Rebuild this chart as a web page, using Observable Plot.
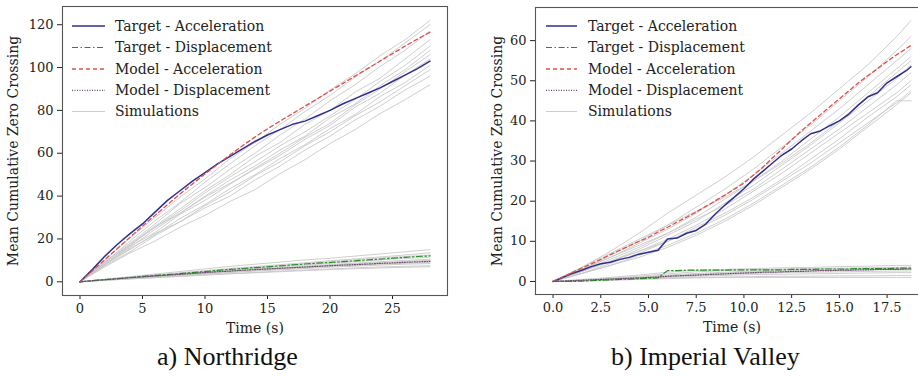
<!DOCTYPE html>
<html><head><meta charset="utf-8">
<script src="https://cdn.jsdelivr.net/npm/d3@7"></script>
<script src="https://cdn.jsdelivr.net/npm/@observablehq/plot@0.6"></script>
<style>
html,body{margin:0;padding:0;background:#fff;overflow:hidden;}
#wrap{position:relative;width:918px;height:376px;overflow:hidden;background:#fff;}
.panel{position:absolute;top:0;}
.caption{position:absolute;font-family:"Liberation Serif","Times New Roman",Times,serif;font-size:26px;color:#111;white-space:nowrap;line-height:1;}
#legend{position:absolute;left:0;top:0;}
</style>
</head><body>
<div id="wrap"></div>
<script>
// ---------------- Data ----------------
const seriesNames = ["Target - Acceleration","Target - Displacement","Model - Acceleration","Model - Displacement","Simulations"];
const captions = ["a) Northridge","b) Imperial Valley"];
const yLabel = "Mean Cumulative Zero Crossing";
const xLabel = "Time (s)";

// Northridge
const nrT = [0,1,2,3,4,5,6,7,8,9,10,11,12,13,14,15,16,17,18,19,20,21,22,23,24,25,26,27,28];
const nrTargetAcc = [0,5.8,12,17.5,22.5,27,32.5,38,42.5,47,51,55,58.5,62,65.5,68.5,71,73.5,75,77.5,80,83,85.5,88,90.5,93.5,96.5,99.5,103];
const nrModelAcc = [0,5.2,10.4,15.6,20.8,26,31,36,41,45.7,50.3,54.8,59.2,63.5,67.6,71.4,75,78.5,82,85.5,89,92.5,96,99.5,103,106.5,110,113.3,116.5];
const nrTargetDisp = [0,0.5,1,1.5,2,2.5,3,3.3,3.8,4.3,4.8,5.3,5.8,6.2,6.6,7,7.4,7.9,8.3,8.7,9,9.4,9.8,10.2,10.6,11,11.4,11.8,12.1];
const nrModelDisp = [0,0.5,1,1.4,1.9,2.3,2.7,3.1,3.5,3.9,4.3,4.7,5,5.4,5.7,6,6.3,6.6,6.9,7.2,7.5,7.8,8,8.3,8.6,8.8,9.1,9.3,9.5];
const nrSimT = [0,2,4,6,8,10,12,14,16,18,20,22,24,26,28];
const nrSimAcc = [
  [0,10,20.5,30,39.5,48,57.5,65,73.5,81,89.5,97,105.5,113,122],
  [0,9,19,28.5,37,46.5,55,63.5,71,79.5,87,95.5,103,111.5,120],
  [0,9.5,18,27,36.5,44,52.5,60,68.5,76,84.5,92,100.5,108,117],
  [0,9,17.5,26,34,42.5,50,58.5,65,73.5,80,88.5,95,104,113],
  [0,8,17,25.5,33,41.5,49,56,63.5,70,77.5,85,93.5,101,110],
  [0,8.5,16,24.5,32,40,47.5,54,61.5,68,76.5,83,91.5,99,108],
  [0,8,16.5,23,31.5,38,45.5,53,60,67.5,74,82.5,90,98,106],
  [0,9,17,25.5,32,39.5,46,52.5,59,66.5,73,81.5,88,96.5,104],
  [0,8,15.5,22,29.5,36,43.5,50,57.5,64,71.5,78,86.5,93,101],
  [0,7.5,14,21.5,28,35.5,42,49.5,56,63.5,70,77.5,84,91.5,99],
  [0,8,15,22.5,28,34.5,40,47.5,54,61.5,68,75.5,82,89.5,96],
  [0,7,13.5,19,25.5,31,37.5,43,50.5,57,64.5,71,78.5,85,92]
];
const nrSimDisp = [
  [0,1.2,2.4,3.6,4.8,6,7.2,8.2,9.2,10.2,11,12,13,14,15],
  [0,1.1,2.2,3.2,4.2,5.2,6.2,7.1,8,8.9,9.8,10.7,11.6,12.5,13.5],
  [0,1,2,3,4,4.9,5.8,6.7,7.6,8.5,9.4,10.3,11.1,11.8,12.5],
  [0,1,1.9,2.8,3.7,4.6,5.4,6.2,7,7.8,8.6,9.4,10.2,10.9,11.5],
  [0,0.9,1.8,2.6,3.4,4.2,5,5.8,6.5,7.3,8,8.7,9.4,10,10.5],
  [0,0.9,1.7,2.5,3.3,4.1,4.9,5.6,6.3,7,7.7,8.4,9,9.5,10],
  [0,0.8,1.6,2.4,3.1,3.8,4.5,5.2,5.9,6.5,7.1,7.7,8.2,8.6,9],
  [0,0.8,1.5,2.2,2.9,3.6,4.3,5,5.6,6.2,6.8,7.3,7.8,8.2,8.5],
  [0,0.7,1.4,2,2.6,3.2,3.8,4.4,5,5.5,6,6.5,6.9,7.2,7.5],
  [0,0.7,1.3,1.9,2.5,3.1,3.7,4.2,4.7,5.2,5.7,6.1,6.5,6.8,7]
];

// Imperial Valley
const ivT = [0,0.5,1,1.5,2,2.5,3,3.5,4,4.5,5,5.5,6,6.5,7,7.5,8,8.5,9,9.5,10,10.5,11,11.5,12,12.5,13,13.5,14,14.5,15,15.5,16,16.5,17,17.5,18,18.5,18.75];
const ivTargetAcc = [0,1,2,2.8,3.7,4.4,4.8,5.5,6,6.8,7.3,7.8,10.6,10.8,12,12.7,14.3,16.8,19,21,23.1,25.5,27.5,29.5,31.5,33,35,36.8,37.5,38.8,40,41.7,44,46,47,49.5,51,52.5,53.5];
const ivModelAcc = [0,1.1,2.2,3.3,4.4,5.5,6.7,7.8,8.9,10,11,12.3,13.5,14.8,16,17.3,18.7,20.1,21.5,23,24.5,26.5,28.5,30.8,33,35.3,37.5,39.5,41.5,43.5,45.5,47.5,49.5,51.3,53,54.8,56.5,58,58.8];
const ivTargetDisp = [0,0,0,0.1,0.2,0.3,0.4,0.5,0.6,0.7,0.8,0.9,2.7,2.7,2.8,2.8,2.8,2.8,2.8,2.9,2.9,2.9,2.9,2.9,2.9,3,3,3,3.1,3.1,3.1,3.1,3.2,3.2,3.2,3.2,3.3,3.3,3.3];
const ivModelDisp = [0,0.1,0.2,0.3,0.4,0.5,0.6,0.7,0.8,0.9,1,1.1,1.3,1.4,1.5,1.6,1.7,1.8,1.9,2,2.1,2.2,2.3,2.3,2.4,2.5,2.5,2.6,2.7,2.7,2.8,2.8,2.9,2.9,3,3,3,3.1,3.1];
const ivSimT = [0,1.5,3,4.5,6,7.5,9,10.5,12,13.5,15,16.5,18,18.75];
const ivSimAcc = [
  [0,3.5,7.5,12,17,21.5,26,31,36.5,42,48,54,61,65],
  [0,3,6.5,10,14,18.5,23,28,33.5,39,45,51,57.5,61],
  [0,3,6,9.5,13,17,21.5,26.5,32,37.5,43,49,55,58],
  [0,2.5,5.5,8.5,12,16,20.5,25,30,35.5,41,47,53,56],
  [0,2.5,5,8,11.5,15,19.5,24,29,34,39.5,45,50.5,54],
  [0,3,6,9,12,15.5,19,23,28,33,38,43.5,49,52],
  [0,2.5,5,7.5,10.5,14,18,22.5,27,32,37,42,47,50],
  [0,2,4.5,7,10,13.5,17,21,25.5,30.5,35.5,41,46,49],
  [0,2.5,5,7.5,10,13,16.5,20.5,25,29.5,34.5,39.5,44.5,47.5],
  [0,2,4,6.5,9,12,15.5,19.5,24,28.5,33.5,39,45,45],
  [0,3.5,7,10.5,14,17.5,21,25,29.5,34.5,40,46,52,55],
  [0,2,4,6,8.5,11.5,15,19,23.5,28,33,38.5,44,47]
];
const ivSimDisp = [
  [0,0.5,1,1.6,2.3,2.8,3,3.2,3.4,3.5,3.7,3.8,4,4],
  [0,0.4,0.8,1.3,1.9,2.4,2.7,2.9,3.1,3.2,3.3,3.4,3.5,3.6],
  [0,0.3,0.7,1.1,1.6,2,2.3,2.6,2.8,3,3.1,3.2,3.3,3.3],
  [0,0.3,0.6,1,1.4,1.8,2.1,2.4,2.6,2.7,2.8,2.9,3,3],
  [0,0.2,0.5,0.8,1.2,1.5,1.8,2,2.2,2.3,2.4,2.5,2.6,2.6],
  [0,0.2,0.4,0.7,1,1.3,1.5,1.7,1.8,1.9,2,2.1,2.2,2.2],
  [0,0.2,0.4,0.6,0.8,1,1.1,1.2,1.3,1.3,1.4,1.4,1.5,1.5],
  [0,0.1,0.3,0.5,0.7,0.9,1,1,1,1,1,1,1,1]
];

const nrXTicks = [0,5,10,15,20,25];
const nrYTicks = [0,20,40,60,80,100,120];
const ivXTicks = [0,2.5,5,7.5,10,12.5,15,17.5];
const ivYTicks = [0,10,20,30,40,50,60];

// ---------------- Styles ----------------
const FONT = '"DejaVu Serif", "Liberation Serif", serif';
const styles = {
  "Target - Acceleration": {stroke:"#2f2f90", width:1.5, dash:null},
  "Target - Displacement": {stroke:"#2a8a2a", width:1.2, dash:"6,2.5,1.5,2.5"},
  "Model - Acceleration": {stroke:"#e0504a", width:1.3, dash:"4,3"},
  "Model - Displacement": {stroke:"#6b4d6b", width:1.2, dash:"1,1.5"},
  "Simulations": {stroke:"#c8c8c8", width:0.9, dash:null}
};

function rows(tArr, vArr, key){ return tArr.map((t,i)=>({t, v:vArr[i], key})); }
function simRows(tArr, sims, prefix){ return sims.flatMap((s,j)=>rows(tArr, s, prefix+j)); }

function lineMark(data, name){
  const s = styles[name];
  const o = {x:"t", y:"v", stroke:s.stroke, strokeWidth:s.width, z:"key"};
  if (s.dash) o.strokeDasharray = s.dash;
  return Plot.line(data, o);
}

function makePanel(cfg){
  const svg = Plot.plot({
    width: cfg.width, height: 335,
    marginLeft: cfg.ml, marginRight: cfg.mr, marginTop: cfg.mt, marginBottom: 335 - cfg.bottom,
    style: {fontFamily:FONT, fontSize:"13px", color:"#222", background:"white", overflow:"visible"},
    x: {domain: cfg.xd, ticks: cfg.xt, tickFormat: cfg.xf, label: xLabel, labelAnchor:"center", labelArrow:"none", labelOffset: 37, tickSize:4, tickPadding:4},
    y: {domain: cfg.yd, ticks: cfg.yt, tickFormat: d=>String(d), label: yLabel, labelAnchor:"center", labelArrow:"none", labelOffset: cfg.ylo, tickSize:5, tickPadding:4},
    marks: [
      lineMark(simRows(cfg.simT, cfg.simAcc, "sa"), "Simulations"),
      lineMark(simRows(cfg.simT, cfg.simDisp, "sd"), "Simulations"),
      lineMark(rows(cfg.t, cfg.tDisp, "td"), "Target - Displacement"),
      lineMark(rows(cfg.t, cfg.mDisp, "md"), "Model - Displacement"),
      lineMark(rows(cfg.t, cfg.tAcc, "ta"), "Target - Acceleration"),
      lineMark(rows(cfg.t, cfg.mAcc, "ma"), "Model - Acceleration"),
      Plot.frame({stroke:"#555", strokeWidth:1.1})
    ]
  });
  d3.select(svg).selectAll('g[aria-label$="axis label"]').attr("font-size","14px");
  return svg;
}

const wrap = document.getElementById("wrap");

const p1 = makePanel({width:459, ml:62, mr:12, mt:6, bottom:295, xd:[-1.4,29.4], yd:[-6.4,128.5],
  xt:nrXTicks, yt:nrYTicks, xf:d=>String(d), ylo:54,
  t:nrT, tAcc:nrTargetAcc, mAcc:nrModelAcc, tDisp:nrTargetDisp, mDisp:nrModelDisp,
  simT:nrSimT, simAcc:nrSimAcc, simDisp:nrSimDisp});
p1.classList.add("panel"); p1.style.left = "0px";
wrap.appendChild(p1);

const p2 = makePanel({width:480, ml:76, mr:11, mt:7, bottom:294, xd:[-0.92,19.67], yd:[-3.25,68.25],
  xt:ivXTicks, yt:ivYTicks, xf:d=>d.toFixed(1), ylo:43,
  t:ivT, tAcc:ivTargetAcc, mAcc:ivModelAcc, tDisp:ivTargetDisp, mDisp:ivModelDisp,
  simT:ivSimT, simAcc:ivSimAcc, simDisp:ivSimDisp});
p2.classList.add("panel"); p2.style.left = "459px";
wrap.appendChild(p2);

// Legends (overlay)
const lg = d3.select(wrap).append("svg").attr("id","legend").attr("width",918).attr("height",376);
const legendPos = [{x0:72, x1:105, tx:115}, {x0:546, x1:577, tx:588}];
const rowY = [26, 47.5, 69, 90.3, 111.5];
legendPos.forEach(p=>{
  seriesNames.forEach((name,i)=>{
    const s = styles[name];
    const ln = lg.append("line").attr("x1",p.x0).attr("x2",p.x1).attr("y1",rowY[i]).attr("y2",rowY[i])
      .attr("stroke", s.stroke).attr("stroke-width", s.width);
    if (s.dash) ln.attr("stroke-dasharray", s.dash);
    lg.append("text").attr("x",p.tx).attr("y",rowY[i]).attr("dy","0.35em")
      .attr("font-family",FONT).attr("font-size","14px").attr("fill","#222").text(name);
  });
});

// Captions
[[captions[0],157],[captions[1],611]].forEach(([txt,x])=>{
  const d = document.createElement("div");
  d.className = "caption"; d.textContent = txt;
  d.style.left = x+"px"; d.style.top = "344px";
  wrap.appendChild(d);
});
</script>
</body></html>
